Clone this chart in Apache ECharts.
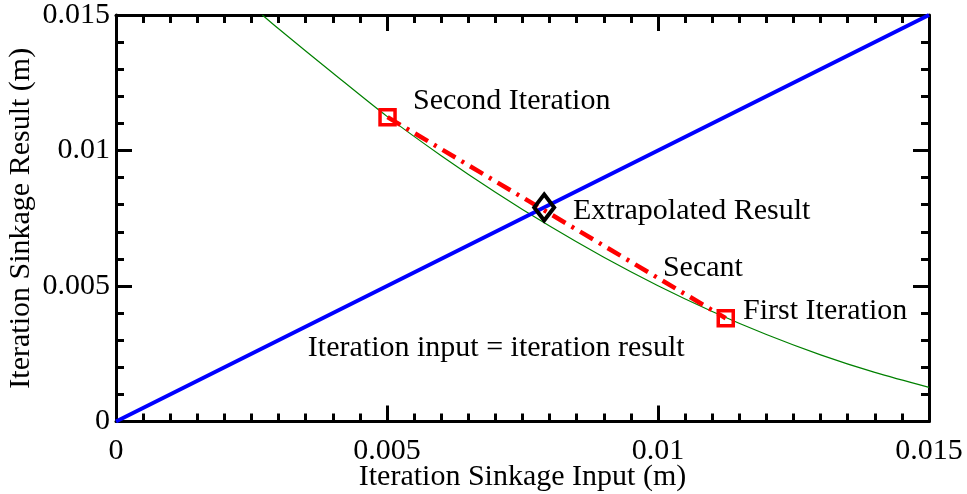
<!DOCTYPE html>
<html>
<head>
<meta charset="utf-8">
<script src="https://cdn.jsdelivr.net/npm/echarts@6/dist/echarts.min.js"></script>
<style>html,body{margin:0;padding:0;background:#fff}#c{width:967px;height:494px}</style>
</head>
<body>
<div id="c"></div>
<script>
// ---- data ----
const curveX = [0.0027, 0.003, 0.004, 0.005, 0.006, 0.007, 0.008, 0.009, 0.010, 0.011, 0.012, 0.013, 0.014, 0.015];
const curveY = [0.0150, 0.01449, 0.01286, 0.01126, 0.00981, 0.00846, 0.00721, 0.00606, 0.00501, 0.00406, 0.00321, 0.00246, 0.00181, 0.00126];
const identityX = [0, 0.015];
const identityY = [0, 0.015];
const iterX = [0.00501, 0.01125];       // second, first iteration
const iterY = [0.01123, 0.00381];
const extrapX = [0.0079];
const extrapY = [0.0079];
const annoText = ["Second Iteration", "Extrapolated Result", "Secant", "First Iteration", "Iteration input = iteration result"];
const annoX = [0.00548, 0.00843, 0.01009, 0.01157, 0.00354];
const annoY = [0.01183, 0.00777, 0.00566, 0.00408, 0.00271];
const xTicks = [0, 0.005, 0.01, 0.015];
const yTicks = [0, 0.005, 0.01, 0.015];
const xTitle = "Iteration Sinkage Input (m)";
const yTitle = "Iteration Sinkage Result (m)";

const zip = (a, b) => a.map((v, i) => [v, b[i]]);
const FONT = "Liberation Serif";
const FS = 30;

function axisStyle(showLabel, ticks, minorSplit, margin) {
  return {
    axisLine: { show: true, onZero: false, lineStyle: { color: '#000', width: 3 } },
    axisTick: { show: true, inside: true, length: 16, lineStyle: { color: '#000', width: 3 } },
    minorTick: { show: true, splitNumber: minorSplit, length: 8, lineStyle: { color: '#000', width: 3 } },
    splitLine: { show: false },
    minorSplitLine: { show: false },
    axisLabel: {
      show: showLabel, color: '#000', fontFamily: FONT, fontSize: FS, margin: margin,
      formatter: v => { const t = ticks.find(k => Math.abs(k - v) < 1e-9); return t === undefined ? '' : String(t); }
    }
  };
}

const chart = echarts.init(document.getElementById('c'), null, { renderer: 'canvas' });
chart.setOption({
  animation: false,
  backgroundColor: '#fff',
  grid: { left: 116, right: 38, top: 15, bottom: 72.5, containLabel: false, outerBoundsMode: 'none' },
  xAxis: [
    Object.assign({ type: 'value', min: 0, max: 0.015, interval: 0.005, position: 'bottom',
      name: xTitle, nameLocation: 'middle', nameGap: 41, nameMoveOverlap: false,
      nameTextStyle: { color: '#000', fontFamily: FONT, fontSize: FS } }, axisStyle(true, xTicks, 10, 15)),
    Object.assign({ type: 'value', min: 0, max: 0.015, interval: 0.005, position: 'top' }, axisStyle(false, xTicks, 10, 8))
  ],
  yAxis: [
    Object.assign({ type: 'value', min: 0, max: 0.015, interval: 0.005, position: 'left',
      name: yTitle, nameLocation: 'middle', nameGap: 80, nameRotate: 90, nameMoveOverlap: false,
      nameTextStyle: { color: '#000', fontFamily: FONT, fontSize: FS } }, axisStyle(true, yTicks, 5, 6)),
    Object.assign({ type: 'value', min: 0, max: 0.015, interval: 0.005, position: 'right' }, axisStyle(false, yTicks, 5, 6))
  ],
  series: [
    { type: 'line', data: zip(curveX, curveY), smooth: 0.3, showSymbol: false, symbol: 'none',
      lineStyle: { color: '#008000', width: 1.2 }, silent: true, z: 2 },
    { type: 'line', data: zip(identityX, identityY), showSymbol: false, symbol: 'none',
      lineStyle: { color: '#0000ff', width: 4 }, silent: true, z: 3 },
    { type: 'line', data: zip(iterX, iterY), showSymbol: false, symbol: 'none',
      lineStyle: { color: '#ff0000', width: 4.5, type: [15, 7, 3, 7] }, silent: true, z: 4 },
    { type: 'scatter', data: zip(iterX, iterY), symbol: 'rect', symbolSize: 15,
      itemStyle: { color: 'rgba(0,0,0,0)', borderColor: '#ff0000', borderWidth: 3.5, opacity: 1 }, z: 5 },
    { type: 'scatter', data: zip(extrapX, extrapY), symbol: 'diamond', symbolSize: [20, 26],
      itemStyle: { color: 'rgba(0,0,0,0)', borderColor: '#000', borderWidth: 4, opacity: 1 }, z: 6 },
    { type: 'scatter', data: zip(annoX, annoY).map((p, i) => ({ value: p, name: annoText[i] })),
      symbolSize: 0, z: 7, itemStyle: { opacity: 1 },
      label: { show: true, position: 'right', distance: 0, formatter: p => p.name, opacity: 1,
        color: '#000', fontFamily: FONT, fontSize: FS, align: 'left', verticalAlign: 'middle' } }
  ]
});
</script>
</body>
</html>
